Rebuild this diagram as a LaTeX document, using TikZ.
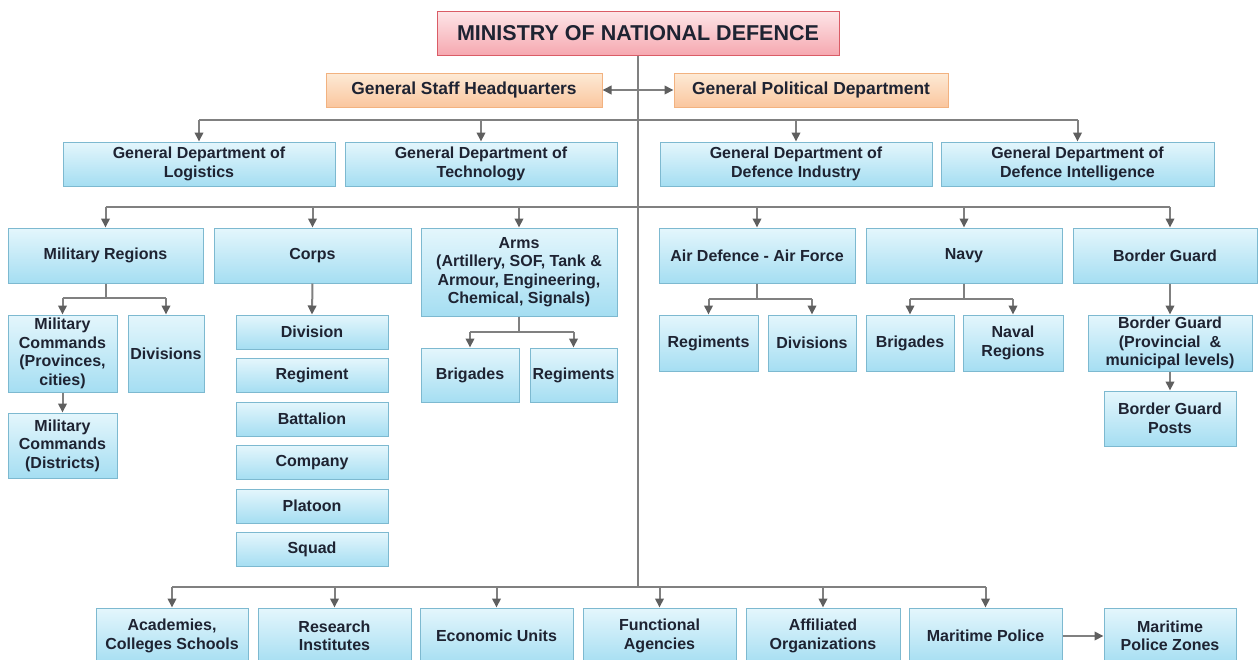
\documentclass[tikz,border=0pt]{standalone}
\usepackage{fontspec}
\setmainfont{Liberation Sans}
\usetikzlibrary{arrows.meta,shadings}
\definecolor{txt}{RGB}{30,35,50}
\definecolor{bluetop}{RGB}{228,246,252}
\definecolor{bluebot}{RGB}{165,222,242}
\definecolor{bluebd}{RGB}{125,185,208}
\definecolor{pinktop}{RGB}{253,230,232}
\definecolor{pinkbot}{RGB}{246,168,176}
\definecolor{pinkbd}{RGB}{218,92,102}
\definecolor{orgtop}{RGB}{253,234,214}
\definecolor{orgbot}{RGB}{250,198,158}
\definecolor{orgbd}{RGB}{242,178,128}
\definecolor{lngray}{RGB}{128,128,128}
\definecolor{tipgray}{RGB}{95,95,95}
\tikzset{
  bx/.style={draw=bluebd, line width=1pt, top color=bluetop, bottom color=bluebot,
    inner sep=0pt, align=center, text=txt, font=\fontsize{16}{18.5}\selectfont\bfseries},
  ob/.style={bx, draw=orgbd, top color=orgtop, bottom color=orgbot,
    font=\fontsize{17.4}{20}\selectfont\bfseries},
  mb/.style={bx, draw=pinkbd, top color=pinktop, bottom color=pinkbot,
    font=\fontsize{21.5}{24}\selectfont\bfseries},
  ln/.style={draw=lngray, line width=2pt},
  arr/.style={ln, -{Triangle[length=9pt,width=8.5pt,color=tipgray]}},
  darr/.style={ln, {Triangle[length=9pt,width=8.5pt,color=tipgray]}-{Triangle[length=9pt,width=8.5pt,color=tipgray]}}
}
\newcommand\bnode[7][bx]{\node[#1, minimum width=#5pt, minimum height=#6pt] (#2) at (#3,#4) {#7};}
\begin{document}
\begin{tikzpicture}[x=1pt,y=-1pt]
\useasboundingbox (0,0) rectangle (1259,659);
\clip (0,0) rectangle (1259,659);
\fill[white] (0,0) rectangle (1259,659);
% top
\bnode[mb]{min}{638}{33}{402}{44}{MINISTRY OF NATIONAL DEFENCE}
\bnode[ob]{gsh}{464}{90}{276}{34}{General Staff Headquarters}
\bnode[ob]{gpd}{811}{90}{274}{34}{General Political Department}
% level 1
\bnode{log}{199}{164}{272}{44}{General Department of\\Logistics}
\bnode{tech}{481}{164}{272}{44}{General Department of\\Technology}
\bnode{ind}{796}{164}{272}{44}{General Department of\\Defence Industry}
\bnode{intel}{1077.5}{164}{273}{44}{General Department of\\Defence Intelligence}
% level 2
\bnode{mr}{105.5}{255.5}{195}{55}{Military Regions}
\bnode{corps}{312.5}{255.5}{197}{55}{Corps}
\bnode{arms}{519}{272}{196}{88}{Arms\\(Artillery, SOF, Tank \&\\Armour, Engineering,\\Chemical, Signals)}
\bnode{ad}{757}{255.5}{196}{55}{Air Defence - Air Force}
\bnode{navy}{964}{255.5}{196}{55}{Navy}
\bnode{bg}{1165}{255.5}{184}{55}{Border Guard}
% military regions subtree
\bnode{mc1}{62.5}{353.5}{109}{77}{Military\\Commands\\(Provinces,\\cities)}
\bnode{mrdiv}{166}{353.5}{76}{77}{Divisions}
\bnode{mc2}{62.5}{445.5}{109}{65}{Military\\Commands\\(Districts)}
% corps subtree
\bnode{cdiv}{312}{332}{152}{34}{Division}
\bnode{creg}{312}{375.5}{152}{34}{Regiment}
\bnode{cbat}{312}{419}{152}{34}{Battalion}
\bnode{ccom}{312}{462.5}{152}{34}{Company}
\bnode{cpla}{312}{506}{152}{34}{Platoon}
\bnode{csqu}{312}{549.5}{152}{34}{Squad}
% arms subtree
\bnode{abrig}{470}{375}{98}{54}{Brigades}
\bnode{areg}{573.5}{375}{87}{54}{Regiments}
% air defence subtree
\bnode{adreg}{708.5}{343}{99}{56}{Regiments}
\bnode{addiv}{812}{343}{88}{56}{Divisions}
% navy subtree
\bnode{nbrig}{910}{343}{88}{56}{Brigades}
\bnode{nreg}{1013}{343}{100}{56}{Naval\\Regions}
% border guard subtree
\bnode{bgp}{1170}{343}{164}{56}{Border Guard\\(Provincial \ \&\\municipal levels)}
\bnode{bgpost}{1170}{418.5}{132}{55}{Border Guard\\Posts}
% bottom row
\bnode{acad}{172}{636}{152}{56}{Academies,\\Colleges Schools}
\bnode{res}{334.5}{636}{153}{56}{Research\\Institutes}
\bnode{eco}{496.5}{636}{153}{56}{Economic Units}
\bnode{fun}{659.5}{636}{153}{56}{Functional\\Agencies}
\bnode{aff}{823}{636}{154}{56}{Affiliated\\Organizations}
\bnode{mp}{985.5}{636}{153}{56}{Maritime Police}
\bnode{mpz}{1170}{636}{132}{56}{Maritime\\Police Zones}
% bus coordinates
\coordinate (l1) at (638,120);
\coordinate (l2) at (638,207);
\coordinate (bot) at (638,587);
\coordinate (mrj) at (0,298);
\coordinate (adj) at (0,299);
\coordinate (armj) at (0,332);
% connectors
\draw[ln] (min.south) -- (bot);
\draw[darr] (gsh.east) -- (gpd.west);
\draw[ln] (log.north |- l1) -- (intel.north |- l1);
\foreach \n in {log,tech,ind,intel} \draw[arr] (\n.north |- l1) -- (\n.north);
\draw[ln] (mr.north |- l2) -- (bgp.north |- l2);
\foreach \n in {mr,corps,arms,ad,navy} \draw[arr] (\n.north |- l2) -- (\n.north);
\draw[arr] (bgp.north |- l2) -- (bgp.north |- bg.north);
\draw[ln] (mr.south) -- (mr.south |- mrj);
\draw[ln] (mc1.north |- mrj) -- (mrdiv.north |- mrj);
\foreach \n in {mc1,mrdiv} \draw[arr] (\n.north |- mrj) -- (\n.north);
\draw[arr] (mc1.south) -- (mc2.north);
\draw[arr] (corps.south) -- (cdiv.north);
\draw[ln] (arms.south) -- (arms.south |- armj);
\draw[ln] (abrig.north |- armj) -- (areg.north |- armj);
\foreach \n in {abrig,areg} \draw[arr] (\n.north |- armj) -- (\n.north);
\draw[ln] (ad.south) -- (ad.south |- adj);
\draw[ln] (adreg.north |- adj) -- (addiv.north |- adj);
\foreach \n in {adreg,addiv} \draw[arr] (\n.north |- adj) -- (\n.north);
\draw[ln] (navy.south) -- (navy.south |- adj);
\draw[ln] (nbrig.north |- adj) -- (nreg.north |- adj);
\foreach \n in {nbrig,nreg} \draw[arr] (\n.north |- adj) -- (\n.north);
\draw[arr] (bgp.north |- bg.south) -- (bgp.north);
\draw[arr] (bgp.south) -- (bgpost.north);
\draw[ln] (acad.north |- bot) -- (mp.north |- bot);
\foreach \n in {acad,res,eco,fun,aff,mp} \draw[arr] (\n.north |- bot) -- (\n.north);
\draw[arr] (mp.east) -- (mpz.west);
\end{tikzpicture}
\end{document}
